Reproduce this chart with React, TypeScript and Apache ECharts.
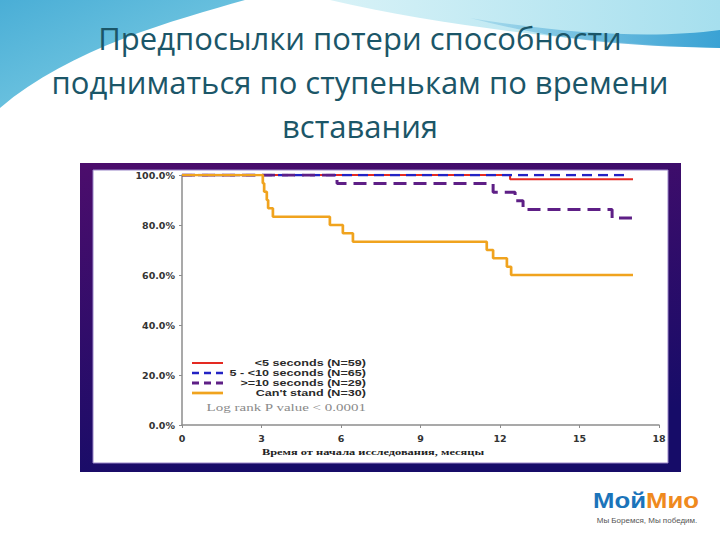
import React, { useEffect, useRef } from "react";
import * as echarts from "echarts";

const titleLines = [
  "Предпосылки потери способности",
  "подниматься по ступенькам по времени",
  "вставания",
];
const seriesNames = [
  "<5 seconds (N=59)",
  "5 - <10 seconds (N=65)",
  ">=10 seconds (N=29)",
  "Can't stand (N=30)",
];
const seriesColors = ["#e42a22", "#2323c4", "#5e1f86", "#f0a31e"];

const lt5Times = [0, 12.38, 17.02];
const lt5Values = [100, 98.3, 98.3];
const midTimes = [0, 16.8];
const midValues = [100, 100];
const ge10Times = [0, 5.85, 11.74, 12.57, 12.87, 16.23, 16.98];
const ge10Values = [100, 96.6, 93.1, 89.7, 86.2, 82.8, 82.8];
const cantTimes = [0, 3.05, 3.1, 3.2, 3.25, 3.43, 5.58, 6.07, 6.45, 11.5, 11.74, 12.26, 12.42, 17.02];
const cantValues = [100, 96.7, 93.3, 90, 86.7, 83.3, 80, 76.7, 73.3, 70, 66.7, 63.3, 60, 60];

const xTicks = [0, 3, 6, 9, 12, 15, 18];
const yTicks = [0, 20, 40, 60, 80, 100];
const xAxisName = "Время от начала исследования, месяцы";
const pValueText = "Log rank P value < 0.0001";
const logoLeft = "Мой";
const logoRight = "Мио";
const logoSlogan = "Мы Боремся, Мы победим.";

const zip = (t: number[], v: number[]) => t.map((x, i) => [x, v[i]]);

let shapesRegistered = false;
function registerShapes() {
  if (shapesRegistered) return;
  shapesRegistered = true;
  echarts.graphic.registerShape(
    "swooshLeft",
    echarts.graphic.extendPath("M0,0 L245,0 C175,20 70,48 0,108 Z", {})
  );
  echarts.graphic.registerShape(
    "swooshRight",
    echarts.graphic.extendPath("M330,0 L720,0 L720,48 C600,44 450,28 330,0 Z", {})
  );
  echarts.graphic.registerShape(
    "swooshBand",
    echarts.graphic.extendPath("M470,18 C580,36 660,38 720,30 L720,48 C600,46 540,36 470,18 Z", {})
  );
}

const axisFont = "'DejaVu Sans', sans-serif";

export default function App() {
  const ref = useRef<HTMLDivElement>(null);
  useEffect(() => {
    if (!ref.current) return;
    registerShapes();
    const chart = echarts.init(ref.current, null, { renderer: "svg" });
    const lineData = [
      zip(lt5Times, lt5Values),
      zip(midTimes, midValues),
      zip(ge10Times, ge10Values),
      zip(cantTimes, cantValues),
    ];
    const lineStyles: any[] = [
      { width: 2, type: "solid" },
      { width: 2.5, type: [10, 6] },
      { width: 3, type: [13, 7] },
      { width: 2.7, type: "solid" },
    ];
    const series = lineData.map((d, i) => ({
      type: "line",
      name: seriesNames[i],
      data: d,
      step: "end",
      symbol: "none",
      z: 3 + i,
      lineStyle: { color: seriesColors[i], ...lineStyles[i] },
    }));

    const legendX1 = 192;
    const legendX2 = 223;
    const legendTextRight = 366;
    const legendY0 = 363;
    const legendGap = 10;
    const legendGraphics: any[] = [];
    seriesNames.forEach((n, i) => {
      const y = legendY0 + i * legendGap;
      legendGraphics.push({
        type: "line",
        shape: { x1: legendX1, y1: y, x2: legendX2, y2: y },
        style: {
          stroke: seriesColors[i],
          lineWidth: lineStyles[i].width,
          lineDash: Array.isArray(lineStyles[i].type) ? [7, 5] : null,
        },
        z: 10,
      });
      legendGraphics.push({
        type: "text",
        x: legendTextRight,
        y,
        scaleX: 1.4,
        style: {
          text: n,
          align: "right",
          verticalAlign: "middle",
          font: "bold 9px 'Liberation Sans', Arial, sans-serif",
          lineHeight: 9,
          fill: "#2a2a2a",
        },
        z: 10,
      });
    });
    legendGraphics.push({
      type: "text",
      x: legendTextRight,
      y: legendY0 + 4 * legendGap + 5,
      scaleX: 1.5,
      style: {
        text: pValueText,
        align: "right",
        verticalAlign: "middle",
        font: "10px 'Liberation Serif', serif",
        fill: "#8a8a8a",
      },
      z: 10,
    });

    chart.setOption({
      animation: false,
      backgroundColor: "#ffffff",
      grid: { left: 182, right: 61, top: 175, bottom: 115 },
      xAxis: {
        type: "value",
        min: 0,
        max: 18,
        interval: 3,
        axisLine: { lineStyle: { color: "#8d8d8d", width: 1.5 } },
        axisTick: { show: true, length: 3, lineStyle: { color: "#8d8d8d" } },
        splitLine: { show: false },
        axisLabel: {
          margin: 8,
          color: "#333",
          fontSize: 9.5,
          fontWeight: "bold",
          fontFamily: axisFont,
          formatter: (v: number) => (xTicks.includes(v) ? String(v) : ""),
        },
      },
      yAxis: {
        type: "value",
        min: 0,
        max: 100,
        interval: 20,
        axisLine: { show: true, lineStyle: { color: "#8d8d8d", width: 1.5 } },
        axisTick: { show: true, length: 3, lineStyle: { color: "#8d8d8d" } },
        splitLine: { show: false },
        axisLabel: {
          margin: 7,
          color: "#333",
          fontSize: 9.5,
          fontWeight: "bold",
          fontFamily: axisFont,
          formatter: (v: number) => (yTicks.includes(v) ? v.toFixed(1) + "%" : ""),
        },
      },
      series,
      graphic: [
        {
          type: "swooshLeft",
          x: 0,
          y: 0,
          z: -10,
          silent: true,
          style: {
            fill: new echarts.graphic.LinearGradient(0, 0, 1, 1, [
              { offset: 0, color: "#4aaed6" },
              { offset: 1, color: "#86d2e6" },
            ]),
          },
        },
        {
          type: "swooshRight",
          x: 0,
          y: 0,
          z: -10,
          silent: true,
          style: {
            fill: new echarts.graphic.LinearGradient(0, 0, 1, 0, [
              { offset: 0, color: "#d8f2f7" },
              { offset: 1, color: "#a6dfee" },
            ]),
          },
        },
        {
          type: "swooshBand",
          x: 0,
          y: 0,
          z: -9,
          silent: true,
          style: {
            fill: new echarts.graphic.LinearGradient(0, 0, 1, 0, [
              { offset: 0, color: "rgba(60,160,210,0.2)" },
              { offset: 1, color: "#3aa2d4" },
            ]),
          },
        },
        ...titleLines.map((t, i) => ({
          type: "text",
          x: 360,
          y: 38 + i * 44,
          z: 5,
          style: {
            text: t,
            align: "center",
            verticalAlign: "middle",
            font: "31px 'Open Sans', sans-serif",
            fill: "#1b5668",
          },
        })),
        {
          type: "rect",
          shape: { x: 80, y: 163, width: 601, height: 309 },
          z: -5,
          silent: true,
          style: {
            fill: new echarts.graphic.LinearGradient(0, 0, 0.3, 1, [
              { offset: 0, color: "#4c0d6c" },
              { offset: 1, color: "#160c68" },
            ]),
          },
        },
        {
          type: "rect",
          shape: { x: 93, y: 170, width: 575, height: 293 },
          z: -4,
          silent: true,
          style: { fill: "#ffffff", stroke: "#9a86c8", lineWidth: 1 },
        },
        {
          type: "text",
          x: 373,
          y: 452,
          scaleX: 1.55,
          z: 10,
          style: {
            text: xAxisName,
            align: "center",
            verticalAlign: "middle",
            font: "bold 8px 'Liberation Serif', serif",
            fill: "#222",
          },
        },
        ...legendGraphics,
        {
          type: "text",
          x: 593,
          y: 500,
          scaleX: 1.12,
          style: {
            text: "{a|" + logoLeft + "}{b|" + logoRight + "}",
            align: "left",
            verticalAlign: "middle",
            rich: {
              a: {
                font: "bold 23px 'Liberation Sans', Arial, sans-serif",
                fill: "#1b74ba",
              },
              b: {
                font: "bold 23px 'Liberation Sans', Arial, sans-serif",
                fill: "#ef8a1e",
              },
            },
          },
        },
        {
          type: "text",
          x: 647,
          y: 520,
          style: {
            text: logoSlogan,
            align: "center",
            verticalAlign: "middle",
            lineHeight: 9,
            font: "8px 'Liberation Sans', Arial, sans-serif",
            fill: "#555",
          },
        },
      ],
    });
    return () => chart.dispose();
  }, []);
  return <div ref={ref} style={{ width: 720, height: 540, position: "absolute", left: 0, top: 0 }} />;
}
